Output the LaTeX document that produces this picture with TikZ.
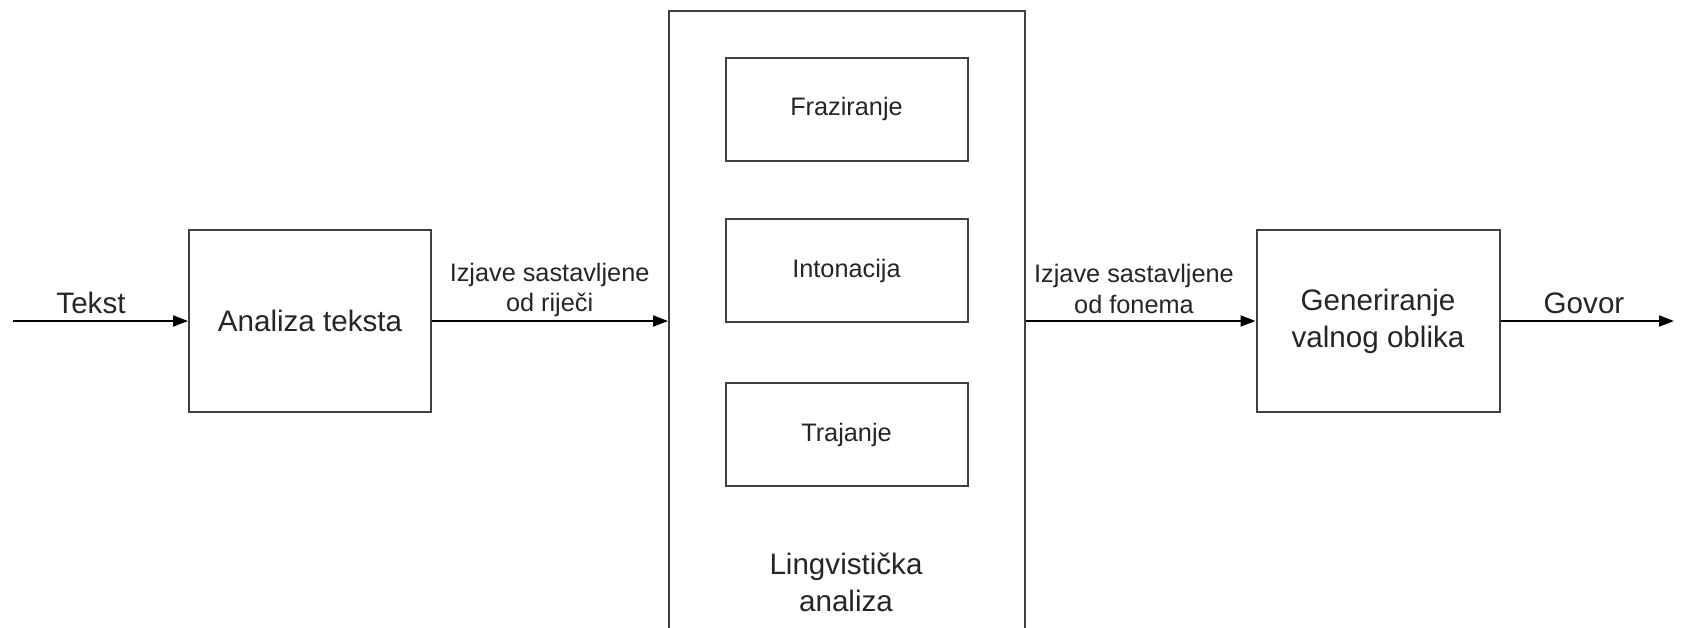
\documentclass[tikz,border=0pt]{standalone}
\usepackage{fontspec}
\setmainfont{Liberation Sans}
\usetikzlibrary{arrows.meta}
\tikzset{
  boxline/.style={draw=black!75, line width=2pt, inner sep=0pt},
  bigtxt/.style={font=\fontsize{29.6}{37}\selectfont, text=black!85, align=center},
  smalltxt/.style={font=\fontsize{25.3}{30.5}\selectfont, text=black!85, align=center},
  flow/.style={draw=black, line width=2pt, -{Triangle[length=15pt,width=11pt]}}
}
\begin{document}
\begin{tikzpicture}[x=1pt,y=-1pt]
\useasboundingbox (0,0) rectangle (1681,627);
\clip (0,0) rectangle (1681,627);
\fill[white] (0,0) rectangle (1681,627);
% blocks
\node[boxline, minimum width=242pt, minimum height=182pt, bigtxt] (analiza) at (310,321) {Analiza teksta};
\node[boxline, minimum width=356pt, minimum height=629pt] (big) at (847,325.5) {};
\node[boxline, minimum width=242pt, minimum height=103pt, smalltxt] (fraz) at (846.5,109) {Fraziranje};
\node[boxline, minimum width=242pt, minimum height=103pt, smalltxt] (inton) at (846.5,270.5) {Intonacija};
\node[boxline, minimum width=242pt, minimum height=103pt, smalltxt] (traj) at (846.5,434.7) {Trajanje};
\node[bigtxt] (ling) at (846,582) {Lingvistička\\analiza};
\node[boxline, minimum width=243pt, minimum height=182pt, bigtxt] (gen) at (1378,321) {Generiranje\\valnog oblika};
% end points
\coordinate (start) at (13,321);
\coordinate (finish) at (1674,321);
% connectors
\draw[flow] (start) -- (analiza.west);
\draw[flow] (analiza.east) -- (analiza.east -| big.west);
\draw[flow] (gen.west -| big.east) -- (gen.west);
\draw[flow] (gen.east) -- (finish);
% labels
\node[bigtxt] (ltekst) at (91,303) {Tekst};
\node[smalltxt] (lrijeci) at (549.6,290) {Izjave sastavljene\\od riječi};
\node[smalltxt] (lfonema) at (1134,289) {Izjave sastavljene\\od fonema};
\node[bigtxt] (lgovor) at (1584,303) {Govor};
\end{tikzpicture}
\end{document}
